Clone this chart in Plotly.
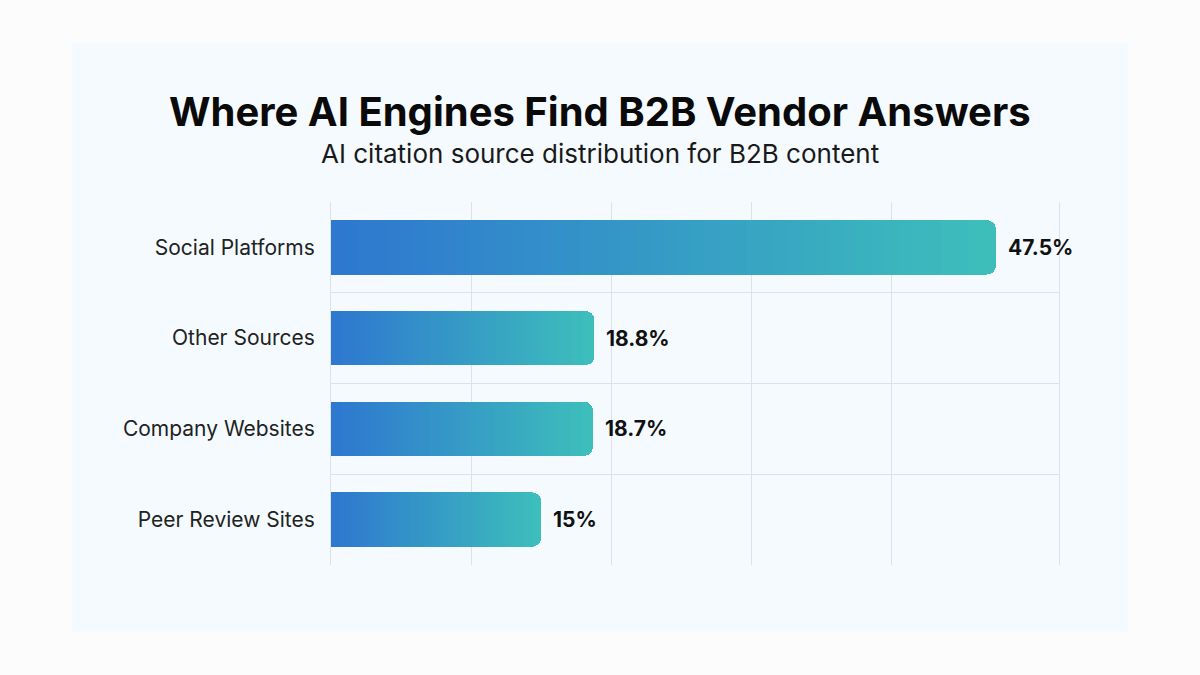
import plotly.graph_objects as go

# data
categories = ["Social Platforms", "Other Sources", "Company Websites", "Peer Review Sites"]
shares = [47.5, 18.8, 18.7, 15]
share_labels = ["47.5%", "18.8%", "18.7%", "15%"]
grid_ticks = [10, 20, 30, 40]

TITLE = "Where AI Engines Find B2B Vendor Answers"
SUBTITLE = "AI citation source distribution for B2B content"

X_MAX = 52
FONT = "Inter, Roboto, sans-serif"
GRID = "#dde2e8"
C_START = (46, 120, 208)
C_END = (61, 190, 187)
N_SEG = 48

# plot area in pixels (l, r, t, b) -> used to place the headline in page terms
L, R, T, B = 331, 141, 202, 110
PLOT_W, PLOT_H = 1200 - L - R, 675 - T - B


def mix(t):
    r, g, b = (round(a + (b - a) * t) for a, b in zip(C_START, C_END))
    return f"rgb({r},{g},{b})"


pos = list(range(len(categories)))
fig = go.Figure()

# each bar is split into thin stacked slices so the fill fades left -> right
for k in range(N_SEG):
    fig.add_trace(
        go.Bar(
            x=[v / N_SEG for v in shares],
            y=pos,
            orientation="h",
            marker=dict(color=mix(k / (N_SEG - 1)), line=dict(width=0)),
            hoverinfo="skip",
            showlegend=False,
        )
    )

for v, lab, p in zip(shares, share_labels, pos):
    fig.add_annotation(
        x=v, y=p, text=f"<b>{lab}</b>", showarrow=False,
        xanchor="left", yanchor="middle", xshift=10,
        font=dict(family=FONT, size=21, color="#111111"),
    )

# title + subtitle, centred on the page rather than the plot area
page_mid = (600 - L) / PLOT_W
fig.add_annotation(
    x=page_mid, y=(675 - B - 112) / PLOT_H, xref="paper", yref="paper",
    text=f"<b>{TITLE}</b>", showarrow=False,
    xanchor="center", yanchor="middle",
    font=dict(family=FONT, size=40, color="#0a0a0a"),
)
fig.add_annotation(
    x=page_mid, y=(675 - B - 153) / PLOT_H, xref="paper", yref="paper",
    text=SUBTITLE, showarrow=False,
    xanchor="center", yanchor="middle",
    font=dict(family=FONT, size=26, color="#1a1a1a"),
)

# card behind the chart
fig.add_shape(
    type="rect", xref="paper", yref="paper",
    x0=(72 - L) / PLOT_W, x1=(1128 - L) / PLOT_W,
    y0=(675 - B - 632) / PLOT_H, y1=(675 - B - 43) / PLOT_H,
    fillcolor="#f5faff", line=dict(width=0), layer="below",
)

fig.update_layout(
    width=1200,
    height=675,
    margin=dict(l=L, r=R, t=T, b=B),
    paper_bgcolor="#fcfcfc",
    plot_bgcolor="rgba(0,0,0,0)",
    barmode="stack",
    bargap=0.4,
    barcornerradius=9,
    font=dict(family=FONT, color="#222222"),
)
fig.update_xaxes(
    range=[0, X_MAX],
    tickvals=grid_ticks,
    showticklabels=False,
    showgrid=True,
    gridcolor=GRID,
    gridwidth=1,
    zeroline=False,
    showline=False,
)
fig.update_yaxes(
    range=[len(categories) - 0.5, -0.5],
    tickvals=pos,
    ticktext=categories,
    tickfont=dict(family=FONT, size=21, color="#222222"),
    ticklabelstandoff=11,
    showgrid=False,
    zeroline=False,
    showline=True,
    mirror=True,
    linecolor=GRID,
    linewidth=1,
    minor=dict(tickvals=[p + 0.5 for p in pos[:-1]], showgrid=True, gridcolor=GRID, gridwidth=1),
)

fig.write_html(
    "out.html",
    config={"displayModeBar": False},
    post_script="document.body.style.margin='0';",
)
